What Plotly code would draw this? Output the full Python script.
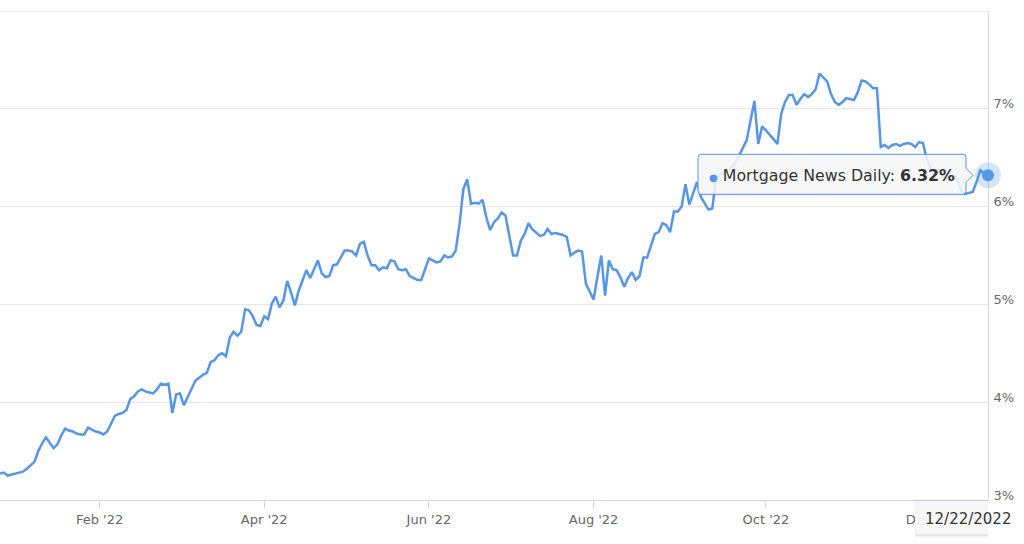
import pandas as pd
import plotly.graph_objects as go

# ---- data (business days) ----
start_date = "2021-12-27"
end_date = "2022-12-22"
series_name = "Mortgage News Daily"
rates = [
    3.27, 3.28, 3.25, 3.26, 3.27, 3.28, 3.29, 3.32, 3.36, 3.39,
    3.50, 3.58, 3.64, 3.58, 3.53, 3.57, 3.66, 3.73, 3.71, 3.70,
    3.68, 3.67, 3.67, 3.74, 3.72, 3.70, 3.69, 3.67, 3.70, 3.78,
    3.86, 3.88, 3.89, 3.92, 4.03, 4.06, 4.11, 4.13, 4.11, 4.10,
    4.09, 4.13, 4.19, 4.18, 4.19, 3.89, 4.08, 4.09, 3.97, 4.05,
    4.14, 4.22, 4.25, 4.28, 4.30, 4.41, 4.43, 4.48, 4.50, 4.47,
    4.66, 4.72, 4.68, 4.72, 4.95, 4.94, 4.88, 4.79, 4.78, 4.88,
    4.85, 5.01, 5.08, 4.97, 5.04, 5.24, 5.12, 4.99, 5.14, 5.24,
    5.35, 5.27, 5.37, 5.45, 5.32, 5.28, 5.29, 5.40, 5.41, 5.48,
    5.55, 5.55, 5.54, 5.50, 5.62, 5.64, 5.50, 5.40, 5.40, 5.35,
    5.38, 5.37, 5.45, 5.44, 5.36, 5.35, 5.36, 5.29, 5.27, 5.25,
    5.25, 5.36, 5.47, 5.45, 5.43, 5.44, 5.50, 5.48, 5.49, 5.55,
    5.82, 6.18, 6.28, 6.03, 6.04, 6.03, 6.07, 5.89, 5.76, 5.84,
    5.88, 5.94, 5.91, 5.70, 5.50, 5.50, 5.65, 5.72, 5.83, 5.77,
    5.73, 5.70, 5.71, 5.77, 5.72, 5.73, 5.72, 5.71, 5.69, 5.50,
    5.53, 5.55, 5.54, 5.21, 5.13, 5.05, 5.28, 5.50, 5.09, 5.45,
    5.36, 5.35, 5.28, 5.18, 5.27, 5.33, 5.25, 5.29, 5.48, 5.48,
    5.60, 5.72, 5.74, 5.83, 5.81, 5.74, 5.95, 5.95, 6.00, 6.23,
    6.02, 6.14, 6.25, 6.10, 6.03, 5.97, 5.98, 6.29, 6.32, 6.35,
    6.37, 6.40, 6.44, 6.52, 6.61, 6.68, 6.88, 7.08, 6.64, 6.82,
    6.78, 6.74, 6.69, 6.64, 6.95, 7.07, 7.14, 7.14, 7.04, 7.10,
    7.15, 7.12, 7.15, 7.20, 7.36, 7.32, 7.28, 7.15, 7.07, 7.04,
    7.07, 7.11, 7.10, 7.09, 7.17, 7.29, 7.28, 7.25, 7.21, 7.21,
    6.61, 6.63, 6.60, 6.63, 6.64, 6.62, 6.64, 6.65, 6.64, 6.61,
    6.66, 6.65, 6.49, 6.40, 6.33, 6.38, 6.33, 6.27, 6.28, 6.31,
    6.28, 6.16, 6.13, 6.14, 6.15, 6.25, 6.37, 6.34, 6.32,
]
dates = pd.bdate_range(start_date, end_date)[: len(rates)]

x_tick_vals = ["2022-02-01", "2022-04-01", "2022-06-01", "2022-08-01", "2022-10-03", "2022-12-01"]
x_tick_text = ["Feb '22", "Apr '22", "Jun '22", "Aug '22", "Oct '22", "Dec '22"]
y_tick_vals = [3, 4, 5, 6, 7, 8]
y_tick_text = ["3%", "4%", "5%", "6%", "7%", ""]
y_top = 8

# ---- styles ----
LINE = "#5596e6"
FONT = "DejaVu Sans"

fig = go.Figure()
fig.add_trace(go.Scatter(
    x=dates, y=rates, mode="lines",
    line=dict(color=LINE, width=2.5),
    hoverinfo="skip", showlegend=False,
))
last_x = dates[-1]
last_y = rates[-1]
# hover halo + marker on last point
fig.add_trace(go.Scatter(
    x=[last_x], y=[last_y], mode="markers",
    marker=dict(size=26, color="rgba(85,150,230,0.25)", line=dict(width=0)),
    hoverinfo="skip", showlegend=False, cliponaxis=False,
))
fig.add_trace(go.Scatter(
    x=[last_x], y=[last_y], mode="markers",
    marker=dict(size=12, color=LINE, line=dict(width=0)),
    hoverinfo="skip", showlegend=False, cliponaxis=False,
))

# top gridline (8%)
fig.add_shape(type="line", xref="paper", yref="y", x0=0, x1=1, y0=y_top, y1=y_top,
              line=dict(color="#e6e6e6", width=1.5), layer="below")

# tooltip callout (pixel offsets relative to last point)
callout = ("M -287 21 L -25 21 Q -22 21 -22 18 L -22 7 L -15 0 L -22 -7 L -22 -16 "
           "Q -22 -19 -25 -19 L -287 -19 Q -290 -19 -290 -16 L -290 18 Q -290 21 -287 21 Z")
shadow = ("M -286 20 L -23 20 L -23 -20 L -286 -20 Z")
fig.add_shape(type="path", path=shadow, xref="x", yref="y",
              xsizemode="pixel", ysizemode="pixel", xanchor=last_x, yanchor=last_y,
              fillcolor="rgba(0,0,0,0.05)", line=dict(color="rgba(0,0,0,0.05)", width=3),
              layer="above")
fig.add_shape(type="path", path=callout, xref="x", yref="y",
              xsizemode="pixel", ysizemode="pixel", xanchor=last_x, yanchor=last_y,
              fillcolor="rgba(247,247,247,0.88)", line=dict(color=LINE, width=1),
              layer="above")
fig.add_annotation(
    x=last_x, y=last_y, xref="x", yref="y", showarrow=False,
    xanchor="left", yanchor="middle", xshift=-281, yshift=0,
    text=(f"<span style='color:{LINE};font-size:10px'>●</span> "
          f"{series_name}: <b>{last_y:.2f}%</b>"),
    font=dict(family=FONT, size=15.8, color="#333333"),
)

# crosshair date label on x-axis
fig.add_shape(type="path", path="M -72 -1 L 36 -1 L 36 -36 L -72 -36 Z",
              xref="x", yref="paper", xsizemode="pixel", ysizemode="pixel",
              xanchor=last_x, yanchor=0,
              fillcolor="rgba(0,0,0,0.06)", line=dict(color="rgba(0,0,0,0.05)", width=3),
              layer="above")
fig.add_shape(type="path", path="M -73 -1 L 34 -1 L 34 -34 L -73 -34 Z",
              xref="x", yref="paper", xsizemode="pixel", ysizemode="pixel",
              xanchor=last_x, yanchor=0,
              fillcolor="rgba(247,247,247,0.97)", line=dict(width=0),
              layer="above")
fig.add_annotation(
    x=last_x, y=0, xref="x", yref="paper", showarrow=False,
    xanchor="center", yanchor="middle", xshift=-20, yshift=-19,
    text=last_x.strftime("%m/%d/%Y"),
    font=dict(family=FONT, size=15, color="#333333"),
)

fig.update_layout(
    width=1024, height=544,
    margin=dict(l=0, r=36, t=11, b=44),
    paper_bgcolor="white", plot_bgcolor="white",
    hovermode=False, showlegend=False,
    xaxis=dict(
        range=[dates[0], dates[-1]],
        rangebreaks=[dict(bounds=["sat", "mon"])],
        tickmode="array", tickvals=x_tick_vals, ticktext=x_tick_text,
        ticks="outside", ticklen=7, tickcolor="#ccd6eb", tickwidth=1,
        showline=True, linecolor="#ccd6eb", linewidth=1,
        showgrid=False, zeroline=False, layer="below traces",
        tickfont=dict(family=FONT, size=13, color="#666666"),
    ),
    yaxis=dict(
        range=[3, y_top], side="right",
        tickmode="array", tickvals=y_tick_vals, ticktext=y_tick_text,
        showgrid=True, gridcolor="#e6e6e6", gridwidth=1,
        showline=True, linecolor="#d8d8d8", linewidth=1,
        zeroline=False, ticks="", layer="below traces",
        ticklabelshift=-5, ticklabelstandoff=2,
        tickfont=dict(family=FONT, size=13, color="#666666"),
    ),
)

fig.write_html(
    "out.html",
    config={"displayModeBar": False},
    post_script="document.body.style.margin='0';document.body.style.overflow='hidden';",
)
